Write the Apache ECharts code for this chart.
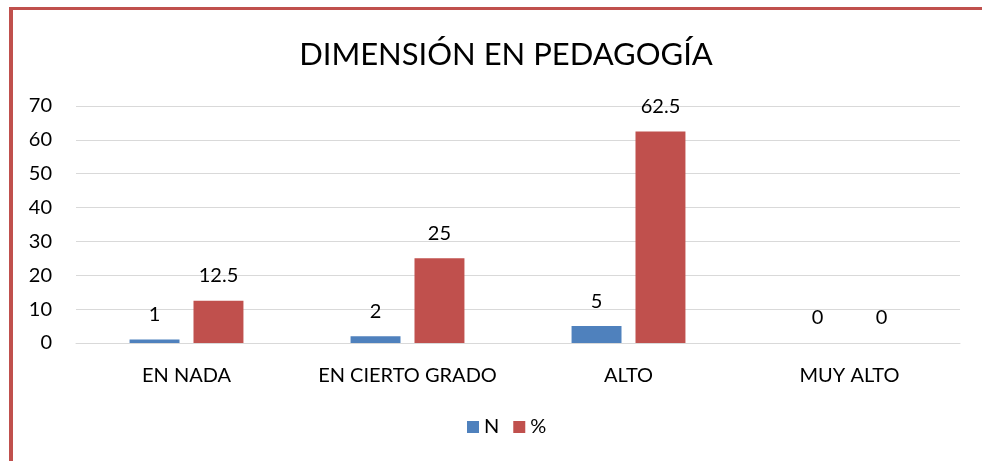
<!DOCTYPE html>
<html>
<head>
<meta charset="utf-8">
<script src="https://cdn.jsdelivr.net/npm/echarts@6/dist/echarts.min.js"></script>
<style>
  html, body { margin: 0; padding: 0; background: #fff; }
  #frame { position: absolute; left: 9px; top: 7px; width: 973px; height: 454px;
           border-left: 4px solid #c0504d; border-top: 3px solid #c0504d; box-sizing: border-box; }
  #chart { position: absolute; left: 0; top: 0; width: 982px; height: 461px; }
</style>
</head>
<body>
<div id="chart"></div>
<div id="frame"></div>
<script>
// datos del gráfico
const categorias = ['EN NADA', 'EN CIERTO GRADO', 'ALTO', 'MUY ALTO']
const valoresN = [1, 2, 5, 0]
const valoresPct = [12.5, 25, 62.5, 0]
const ticksY = [0, 10, 20, 30, 40, 50, 60, 70]

const fuente = 'Lato, "Open Sans", sans-serif'
let chart = echarts.init(document.getElementById('chart'))
const option = {
  animation: false,
  title: {
    text: 'DIMENSIÓN EN PEDAGOGÍA',
    left: 501,
    textAlign: 'center',
    top: 34,
    textStyle: { color: '#000', fontSize: 31, fontWeight: 'normal', fontFamily: fuente }
  },
  legend: {
    bottom: 19,
    left: 462,
    itemWidth: 12,
    itemHeight: 12,
    itemGap: 14,
    icon: 'rect',
    textStyle: { color: '#000', fontSize: 20, fontFamily: fuente }
  },
  grid: { left: 76, right: 22, top: 106, bottom: 118 },
  xAxis: {
    type: 'category',
    data: categorias,
    axisTick: { show: false },
    axisLine: { lineStyle: { color: '#d9d9d9' } },
    axisLabel: { color: '#000', fontSize: 20, margin: 23, interval: 0, fontFamily: fuente }
  },
  yAxis: {
    type: 'value',
    min: ticksY[0],
    max: ticksY[ticksY.length - 1],
    interval: 10,
    axisLine: { show: false },
    axisTick: { show: false },
    splitLine: { lineStyle: { color: '#d9d9d9' } },
    axisLabel: { color: '#000', fontSize: 20, margin: 24, fontFamily: fuente }
  },
  series: [
    {
      name: 'N',
      type: 'bar',
      data: valoresN,
      barWidth: '22.6%',
      barGap: '28%',
      itemStyle: { color: '#4f81bd' },
      label: { show: true, position: 'top', distance: 15, color: '#000', fontSize: 20, fontFamily: fuente }
    },
    {
      name: '%',
      type: 'bar',
      data: valoresPct,
      barWidth: '22.6%',
      itemStyle: { color: '#c0504d' },
      label: { show: true, position: 'top', distance: 15, color: '#000', fontSize: 20, fontFamily: fuente }
    }
  ]
}
chart.setOption(option)
</script>
</body>
</html>
